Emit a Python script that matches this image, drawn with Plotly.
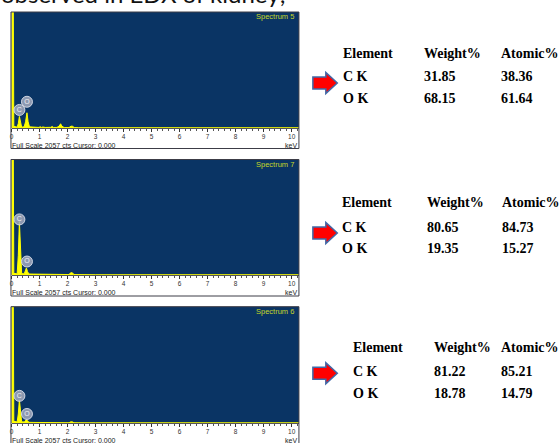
import plotly.graph_objects as go

# ---------------- data ----------------
FULL_SCALE = 2057  # counts, full vertical scale of each spectrum

# EDX spectrum 5 (energy in keV, counts)
energy_s5 = [0.00, 0.015, 0.06, 0.08, 0.20, 0.24, 0.28, 0.32, 0.36, 0.45, 0.50, 0.55, 0.59,
             0.64, 0.75, 0.82, 0.86, 0.90, 0.98, 1.02, 1.06, 1.12, 1.20, 1.40, 1.45, 1.50,
             1.62, 1.70, 1.75, 1.80, 1.88, 2.05, 2.12, 2.17, 2.24, 2.40, 3.00, 10.30]
counts_s5 = [0, 2400, 2400, 30, 15, 80, 205, 80, 15, 20, 110, 270, 110,
             20, 14, 22, 12, 14, 10, 24, 10, 18, 10, 12, 26, 10,
             10, 35, 75, 30, 8, 8, 32, 32, 8, 5, 4, 4]

# EDX spectrum 7
energy_s7 = [0.00, 0.015, 0.06, 0.08, 0.20, 0.24, 0.28, 0.32, 0.36, 0.45, 0.49, 0.53, 0.57,
             0.62, 0.80, 1.00, 1.20, 1.40, 1.60, 1.80, 2.05, 2.11, 2.17, 2.23, 2.40, 3.00, 10.30]
counts_s7 = [0, 2400, 2400, 30, 20, 350, 950, 350, 25, 20, 60, 125, 60,
             18, 16, 14, 10, 9, 8, 8, 8, 40, 40, 8, 5, 4, 4]

# EDX spectrum 6
energy_s6 = [0.00, 0.015, 0.06, 0.08, 0.20, 0.24, 0.28, 0.32, 0.36, 0.46, 0.50, 0.53, 0.57,
             0.62, 0.80, 1.00, 1.20, 1.60, 2.05, 2.11, 2.17, 2.23, 2.40, 3.00, 10.30]
counts_s6 = [0, 2400, 2400, 30, 18, 160, 410, 160, 20, 18, 40, 60, 40,
             12, 10, 8, 6, 5, 5, 20, 20, 5, 4, 3, 3]

# peak identification labels (element, energy keV, label height counts)
peak_names = ["C", "O"]
peak_energy = [0.28, 0.55]
peak_label_s5 = [320, 465]
peak_label_s7 = [990, 240]
peak_label_s6 = [480, 160]

# quantification tables
table_header = ["Element", "Weight%", "Atomic%"]
elements = ["C K", "O K"]
weight_s5 = ["31.85", "68.15"]
atomic_s5 = ["38.36", "61.64"]
weight_s7 = ["80.65", "19.35"]
atomic_s7 = ["84.73", "15.27"]
weight_s6 = ["81.22", "18.78"]
atomic_s6 = ["85.21", "14.79"]

tick_values = list(range(0, 11))
tick_labels = [str(v) for v in tick_values]

# ---------------- layout helpers ----------------
W, H = 559, 443


def fx(p):
    return p / W


def fy(p):
    return 1 - p / H


BLUE = "#0a3464"
YELLOW = "#ffff00"
LABEL_GREEN = "#c4d62a"
AXIS_FONT = "Liberation Sans"
TABLE_FONT = "Liberation Serif"

panels = [
    dict(title="Spectrum 5", energy=energy_s5, counts=counts_s5, labels=peak_label_s5,
         weight=weight_s5, atomic=atomic_s5, top=12, bottom=128, frame_bottom=148.5,
         rows_y=[53, 77, 98], cols_x=[340, 422, 499], arrow_y=83),
    dict(title="Spectrum 7", energy=energy_s7, counts=counts_s7, labels=peak_label_s7,
         weight=weight_s7, atomic=atomic_s7, top=159.5, bottom=275, frame_bottom=296,
         rows_y=[202, 227, 248], cols_x=[339, 425, 500], arrow_y=233),
    dict(title="Spectrum 6", energy=energy_s6, counts=counts_s6, labels=peak_label_s6,
         weight=weight_s6, atomic=atomic_s6, top=306.7, bottom=423, frame_bottom=444,
         rows_y=[347, 371, 393], cols_x=[350, 432, 499], arrow_y=373.3),
]

PLOT_LEFT, PLOT_RIGHT = 9.6, 298
X_RANGE = [0, 10.26]

fig = go.Figure()
annotations = []
shapes = []

for i, p in enumerate(panels, start=1):
    sfx = "" if i == 1 else str(i)
    xa, ya = "x" + sfx, "y" + sfx

    # spectrum as filled yellow trace
    fig.add_trace(go.Scatter(
        x=p["energy"], y=p["counts"], mode="lines", fill="tozeroy",
        line=dict(color=YELLOW, width=1), fillcolor=YELLOW,
        xaxis=xa, yaxis=ya, hoverinfo="skip", showlegend=False))

    # element markers above the peaks
    fig.add_trace(go.Scatter(
        x=peak_energy, y=p["labels"], mode="markers+text", text=peak_names,
        textposition="middle center",
        textfont=dict(family=AXIS_FONT, size=7, color="#eef0f5"),
        marker=dict(size=11, color="rgba(165,172,190,0.85)",
                    line=dict(color="rgba(220,224,235,0.9)", width=1)),
        xaxis=xa, yaxis=ya, hoverinfo="skip", showlegend=False))

    axis_x = dict(
        domain=[fx(PLOT_LEFT), fx(PLOT_RIGHT)], anchor=ya, range=X_RANGE,
        tickvals=tick_values, ticktext=tick_labels, ticks="outside", ticklen=3,
        tickcolor="#333", tickwidth=1, ticklabelstandoff=-1,
        minor=dict(dtick=0.2, ticks="outside", ticklen=2, tickcolor="#555"),
        tickfont=dict(family=AXIS_FONT, size=6.5, color="#333"),
        showgrid=False, zeroline=False, showline=True, linecolor="#555",
        linewidth=1, fixedrange=True)
    axis_y = dict(
        domain=[fy(p["bottom"]), fy(p["top"])], anchor=xa,
        range=[0, FULL_SCALE], showticklabels=False, ticks="", showgrid=False,
        zeroline=False, showline=False, fixedrange=True)
    fig.update_layout(**{"xaxis" + sfx: axis_x, "yaxis" + sfx: axis_y})

    # frame around spectrum window and its scale strip
    shapes.append(dict(type="rect", xref="paper", yref="paper",
                       x0=fx(9), x1=fx(298), y0=fy(p["frame_bottom"]), y1=fy(p["top"]),
                       line=dict(color="#3c3c46", width=1), fillcolor="rgba(0,0,0,0)",
                       layer="above"))

    # spectrum name
    annotations.append(dict(text=p["title"], xref="paper", yref="paper",
                            x=fx(295), y=fy(p["top"] + 5), xanchor="right", yanchor="middle",
                            showarrow=False,
                            font=dict(family=AXIS_FONT, size=7.5, color=LABEL_GREEN)))
    # footer texts
    annotations.append(dict(text="Full Scale 2057 cts Cursor: 0.000", xref="paper", yref="paper",
                            x=fx(9.5), y=fy(p["bottom"] + 17), xanchor="left", yanchor="middle",
                            showarrow=False, borderpad=0,
                            font=dict(family=AXIS_FONT, size=7, color="#222")))
    annotations.append(dict(text="keV", xref="paper", yref="paper",
                            x=fx(297.5), y=fy(p["bottom"] + 17), xanchor="right", yanchor="middle",
                            showarrow=False, borderpad=0,
                            font=dict(family=AXIS_FONT, size=7, color="#222")))

    # quantification table
    columns = [[table_header[0]] + elements,
               [table_header[1]] + p["weight"],
               [table_header[2]] + p["atomic"]]
    for cx, col in zip(p["cols_x"], columns):
        for ry, cell in zip(p["rows_y"], col):
            annotations.append(dict(text=cell, xref="paper", yref="paper",
                                    x=fx(cx), y=fy(ry), xanchor="left", yanchor="middle",
                                    showarrow=False,
                                    font=dict(family=TABLE_FONT, size=14, color="#000",
                                              weight="bold")))

    # block arrow pointing at the table
    cy = p["arrow_y"]
    pts = [(312, cy - 6), (325, cy - 6), (325, cy - 10.5), (336.5, cy),
           (325, cy + 10.5), (325, cy + 6), (312, cy + 6)]
    path = "M " + " L ".join(f"{fx(x):.5f},{fy(y):.5f}" for x, y in pts) + " Z"
    shapes.append(dict(type="path", xref="paper", yref="paper", path=path,
                       fillcolor="#ff0000", line=dict(color="#4068a8", width=1.5)))

# caption line running off the top edge
annotations.append(dict(text="observed in EDX of kidney;", xref="paper", yref="paper",
                        x=fx(-3), y=fy(7), xanchor="left", yanchor="bottom",
                        showarrow=False, yshift=-3,
                        font=dict(family="Lato", size=24, color="#111")))

fig.update_layout(
    width=W, height=H, margin=dict(l=0, r=0, t=0, b=0),
    paper_bgcolor="white", plot_bgcolor=BLUE,
    annotations=annotations, shapes=shapes, showlegend=False)

fig.write_html("out.html")
